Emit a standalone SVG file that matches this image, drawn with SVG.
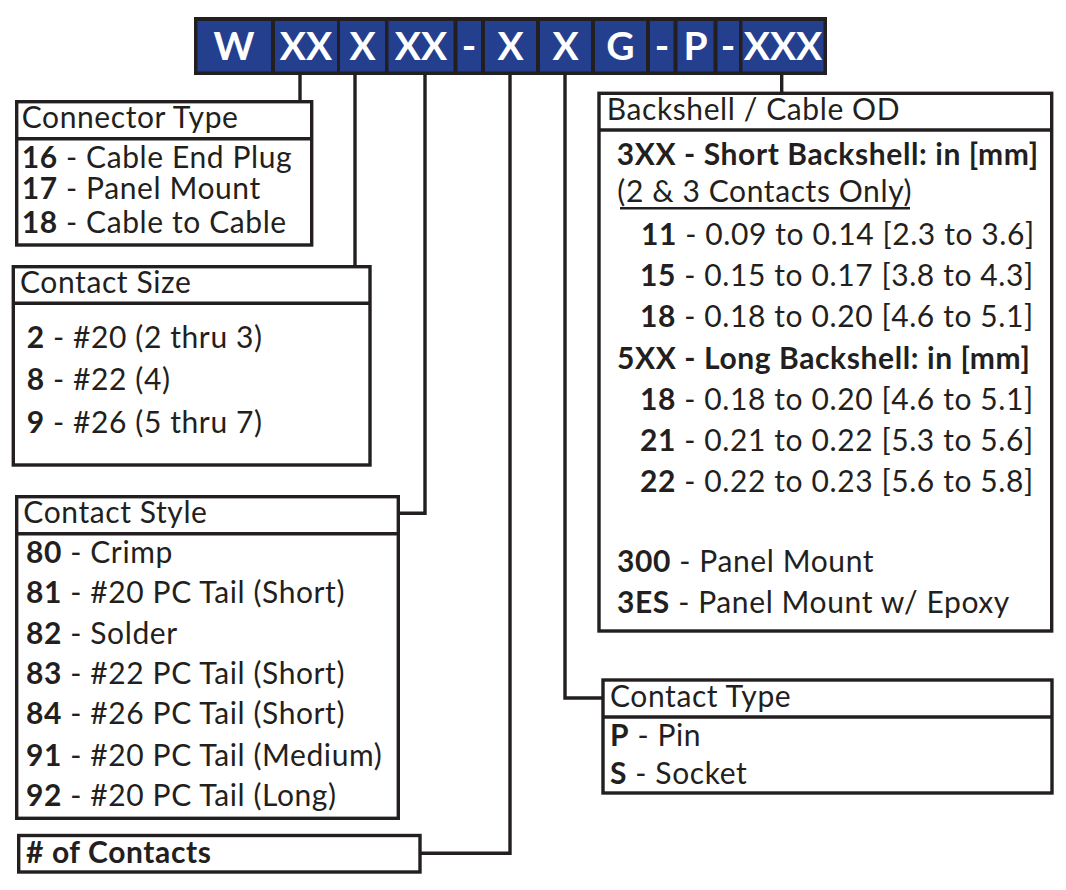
<svg xmlns="http://www.w3.org/2000/svg" width="1066" height="890" viewBox="0 0 1066 890">
<style>
.box{fill:#fff;stroke:#231f20;stroke-width:3.4}
.div{stroke:#231f20;stroke-width:3.4}
.conn{fill:none;stroke:#231f20;stroke-width:3.4}
.cell{fill:#253f8f}
.code{font-family:Lato,"Open Sans",sans-serif;font-weight:700;font-size:39px;fill:#fff;text-anchor:middle}
.t{font-family:Lato,"Open Sans",sans-serif;font-size:30px;letter-spacing:0.6px;fill:#231f20}
.b{font-weight:700}
</style>
<rect width="1066" height="890" fill="#fff"/>
<g id="part-code">
<rect x="194" y="17" width="633" height="58" fill="#231f20"/>
<rect class="cell" x="197.5" y="21" width="73.5" height="50.5"/>
<rect class="cell" x="275" y="21" width="62" height="50.5"/>
<rect class="cell" x="340" y="21" width="45" height="50.5"/>
<rect class="cell" x="388.5" y="21" width="65" height="50.5"/>
<rect class="cell" x="457.5" y="21" width="23.5" height="50.5"/>
<rect class="cell" x="485" y="21" width="51" height="50.5"/>
<rect class="cell" x="540" y="21" width="51" height="50.5"/>
<rect class="cell" x="595" y="21" width="51" height="50.5"/>
<rect class="cell" x="650" y="21" width="23.5" height="50.5"/>
<rect class="cell" x="677.5" y="21" width="36" height="50.5"/>
<rect class="cell" x="717.5" y="21" width="21.5" height="50.5"/>
<rect class="cell" x="742.5" y="21" width="81" height="50.5"/>
<text class="code" x="234" y="60">W</text>
<text class="code" x="306" y="60">XX</text>
<text class="code" x="362.5" y="60">X</text>
<text class="code" x="421" y="60">XX</text>
<text class="code" x="469" y="60">-</text>
<text class="code" x="510.5" y="60">X</text>
<text class="code" x="565.5" y="60">X</text>
<text class="code" x="620.5" y="60">G</text>
<text class="code" x="662" y="60">-</text>
<text class="code" x="695.5" y="60">P</text>
<text class="code" x="728" y="60">-</text>
<text class="code" x="783" y="60">XXX</text>
</g>
<g id="connectors">
<path class="conn" d="M300 75 V101.7"/>
<path class="conn" d="M355 75 V266.7"/>
<path class="conn" d="M425 75 V513.3 H398.3"/>
<path class="conn" d="M510 75 V853.3 H420"/>
<path class="conn" d="M565 75 V698 H603"/>
<path class="conn" d="M781.7 75 V93.3"/>
</g>
<g id="connector-type">
<rect class="box" x="16.7" y="101.7" width="295" height="143.3"/>
<line class="div" x1="16.7" y1="138.7" x2="311.7" y2="138.7"/>
<text class="t" x="21.7" y="128.3">Connector Type</text>
<text class="t" x="21.7" y="168.3"><tspan class="b">16</tspan> - Cable End Plug</text>
<text class="t" x="21.7" y="199.3"><tspan class="b">17</tspan> - Panel Mount</text>
<text class="t" x="21.7" y="233.3"><tspan class="b">18</tspan> - Cable to Cable</text>
</g>
<g id="contact-size">
<rect class="box" x="13.3" y="266.7" width="356.7" height="198.3"/>
<line class="div" x1="13.3" y1="303.3" x2="370" y2="303.3"/>
<text class="t" x="20" y="293.3">Contact Size</text>
<text class="t" x="26.7" y="348.3"><tspan class="b">2</tspan> - #20 (2 thru 3)</text>
<text class="t" x="26.7" y="390"><tspan class="b">8</tspan> - #22 (4)</text>
<text class="t" x="26.7" y="432.7"><tspan class="b">9</tspan> - #26 (5 thru 7)</text>
</g>
<g id="contact-style">
<rect class="box" x="16.7" y="496.7" width="381.6" height="321.6"/>
<line class="div" x1="16.7" y1="533.7" x2="398.3" y2="533.7"/>
<text class="t" x="23.3" y="523.3">Contact Style</text>
<text class="t" x="26" y="562.7"><tspan class="b">80</tspan> - Crimp</text>
<text class="t" x="26" y="602.7"><tspan class="b">81</tspan> - #20 PC Tail (Short)</text>
<text class="t" x="26" y="644"><tspan class="b">82</tspan> - Solder</text>
<text class="t" x="26" y="684.3"><tspan class="b">83</tspan> - #22 PC Tail (Short)</text>
<text class="t" x="26" y="724.3"><tspan class="b">84</tspan> - #26 PC Tail (Short)</text>
<text class="t" x="26" y="766"><tspan class="b">91</tspan> - #20 PC Tail (Medium)</text>
<text class="t" x="26" y="806"><tspan class="b">92</tspan> - #20 PC Tail (Long)</text>
</g>
<g id="num-contacts">
<rect class="box" x="18.7" y="835.5" width="401.3" height="36.5"/>
<text class="t b" x="26" y="862.7">#&#160;of Contacts</text>
</g>
<g id="backshell">
<rect class="box" x="599" y="93.3" width="452.7" height="537.7"/>
<line class="div" x1="599" y1="130" x2="1051.7" y2="130"/>
<text class="t" x="606.7" y="120">Backshell / Cable OD</text>
<text class="t b" x="616.7" y="165">3XX - Short Backshell: in [mm]</text>
<text class="t" x="617.3" y="201.7">(2 &amp; 3 Contacts Only)</text>
<line x1="620" y1="208.3" x2="910" y2="208.3" stroke="#231f20" stroke-width="2.6"/>
<text class="t" x="641" y="245"><tspan class="b">11</tspan> - 0.09 to 0.14 [2.3 to 3.6]</text>
<text class="t" x="640" y="286"><tspan class="b">15</tspan> - 0.15 to 0.17 [3.8 to 4.3]</text>
<text class="t" x="640" y="326.5"><tspan class="b">18</tspan> - 0.18 to 0.20 [4.6 to 5.1]</text>
<text class="t b" x="617" y="369.3">5XX - Long Backshell: in [mm]</text>
<text class="t" x="640" y="410"><tspan class="b">18</tspan> - 0.18 to 0.20 [4.6 to 5.1]</text>
<text class="t" x="640" y="450.5"><tspan class="b">21</tspan> - 0.21 to 0.22 [5.3 to 5.6]</text>
<text class="t" x="640" y="491.5"><tspan class="b">22</tspan> - 0.22 to 0.23 [5.6 to 5.8]</text>
<text class="t" x="617" y="572.3"><tspan class="b">300</tspan> - Panel Mount</text>
<text class="t" x="617" y="612.7"><tspan class="b">3ES</tspan> - Panel Mount w/ Epoxy</text>
</g>
<g id="contact-type">
<rect class="box" x="603" y="680" width="449" height="113"/>
<line class="div" x1="603" y1="717" x2="1052" y2="717"/>
<text class="t" x="610" y="707.3">Contact Type</text>
<text class="t" x="610" y="745.7"><tspan class="b">P</tspan> - Pin</text>
<text class="t" x="610" y="784"><tspan class="b">S</tspan> - Socket</text>
</g>
</svg>
